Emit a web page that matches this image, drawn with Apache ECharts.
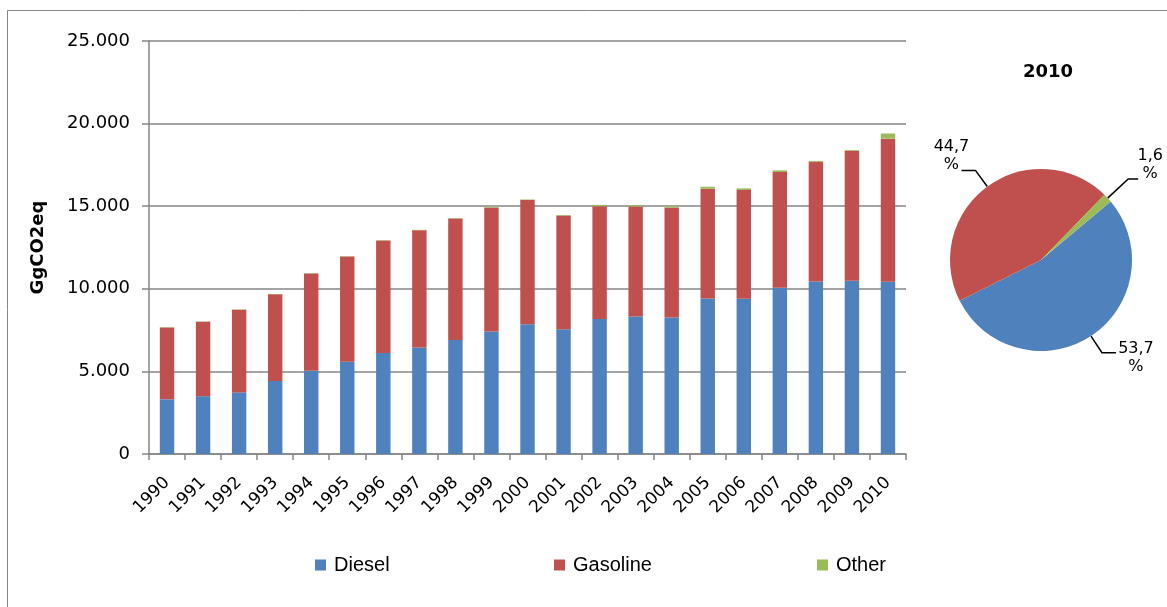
<!DOCTYPE html>
<html>
<head>
<meta charset="utf-8">
<title>GgCO2eq</title>
<script src="https://cdn.jsdelivr.net/npm/echarts@6/dist/echarts.min.js"></script>
<style>
  html, body { margin: 0; padding: 0; background: #fff; }
  #main { width: 1167px; height: 607px; }
</style>
</head>
<body>
<div id="main"></div>
<script>
// jaren
var years = ['1990', '1991', '1992', '1993', '1994', '1995', '1996', '1997', '1998', '1999',
  '2000', '2001', '2002', '2003', '2004', '2005', '2006', '2007', '2008', '2009', '2010']
// waarden per brandstof (GgCO2eq)
var diesel = [3310, 3500, 3730, 4420, 5040, 5580, 6120, 6450, 6900, 7410,
  7850, 7550, 8170, 8330, 8270, 9420, 9400, 10060, 10440, 10480, 10420]
var gasoline = [4340, 4510, 5000, 5250, 5880, 6370, 6810, 7100, 7350, 7510,
  7530, 6880, 6830, 6650, 6650, 6640, 6580, 7010, 7230, 7870, 8670]
var other = [20, 20, 20, 20, 20, 20, 20, 20, 20, 40,
  30, 30, 80, 70, 80, 120, 100, 100, 60, 40, 310]
var yTicks = [0, 5000, 10000, 15000, 20000, 25000]

var colors = ['#4F81BD', '#C0504D', '#9BBB59']
var last = years.length - 1

function fmt(v) {
  // 25000 -> 25.000
  return String(v).replace(/\B(?=(\d{3})+(?!\d))/g, '.')
}

var chart = echarts.init(document.getElementById('main'))

var legendBase = {
  itemWidth: 11,
  itemHeight: 11,
  icon: 'rect',
  top: 550,
  textStyle: {
    fontFamily: 'Liberation Sans, Arial',
    fontSize: 20,
    color: '#000',
    padding: [0, 0, 0, 3]
  }
}

var pctStyle = {
  align: 'center',
  fontFamily: 'DejaVu Sans',
  fontSize: 16,
  lineHeight: 18,
  color: '#000'
}

var option = {
  animation: false,
  color: colors,
  graphic: [
    {
      type: 'rect',
      shape: { x: 7.5, y: 10.5, width: 1300, height: 800 },
      style: { fill: 'none', stroke: '#878787', lineWidth: 1 },
      silent: true
    }
  ],
  title: {
    text: years[last],
    left: 1043,
    top: 58,
    textAlign: 'center',
    textStyle: {
      fontFamily: 'DejaVu Sans',
      fontWeight: 'bold',
      fontSize: 18,
      color: '#000'
    }
  },
  legend: [
    Object.assign({ data: ['Diesel'], left: 310 }, legendBase),
    Object.assign({ data: ['Gasoline'], left: 549 }, legendBase),
    Object.assign({ data: ['Other'], left: 812 }, legendBase)
  ],
  grid: {
    left: 149,
    right: 261,
    top: 41,
    bottom: 153
  },
  xAxis: {
    type: 'category',
    data: years,
    axisLine: { lineStyle: { color: '#868686', width: 1.5 } },
    axisTick: { show: true, length: 6, interval: 0, lineStyle: { color: '#868686', width: 1.5 } },
    axisLabel: {
      interval: 0,
      rotate: 45,
      margin: 26,
      fontFamily: 'DejaVu Sans',
      fontSize: 17,
      color: '#000'
    }
  },
  yAxis: {
    type: 'value',
    min: yTicks[0],
    max: yTicks[yTicks.length - 1],
    interval: yTicks[1] - yTicks[0],
    name: 'GgCO2eq',
    nameLocation: 'middle',
    nameGap: 102,
    nameRotate: 90,
    nameTextStyle: {
      fontFamily: 'DejaVu Sans',
      fontWeight: 'bold',
      fontSize: 18,
      color: '#000'
    },
    axisLine: { show: true, lineStyle: { color: '#868686', width: 1.5 } },
    axisTick: { show: true, length: 7, lineStyle: { color: '#868686', width: 1.5 } },
    splitLine: { lineStyle: { color: '#868686', width: 1.5 } },
    axisLabel: {
      margin: 19,
      formatter: fmt,
      fontFamily: 'DejaVu Sans',
      fontSize: 18,
      color: '#000'
    }
  },
  series: [
    {
      name: 'Diesel',
      type: 'bar',
      stack: 'total',
      barWidth: '40%',
      data: diesel
    },
    {
      name: 'Gasoline',
      type: 'bar',
      stack: 'total',
      data: gasoline
    },
    {
      name: 'Other',
      type: 'bar',
      stack: 'total',
      data: other
    },
    {
      name: '2010',
      type: 'pie',
      center: [1041, 260],
      radius: 91,
      startAngle: 40,
      clockwise: true,
      legendHoverLink: false,
      data: [
        {
          name: 'Diesel',
          value: diesel[last],
          label: { distanceToLabelLine: 1, padding: [10, 0, 0, 0] }
        },
        {
          name: 'Gasoline',
          value: gasoline[last],
          label: { distanceToLabelLine: -9, padding: [0, 0, 30, 0] }
        },
        {
          name: 'Other',
          value: other[last],
          label: { distanceToLabelLine: -2, padding: [0, 0, 28, 0] },
          labelLine: { length: 28, length2: 10 }
        }
      ],
      label: {
        position: 'outside',
        bleedMargin: 0,
        overflow: 'none',
        formatter: function (p) {
          var s = p.name === 'Other' ? 'n' : 'w'
          return '{' + s + '|' + p.percent.toFixed(1).replace('.', ',') + '}\n{' + s + '|%}'
        },
        rich: {
          w: Object.assign({ width: 38 }, pctStyle),
          n: Object.assign({ width: 28 }, pctStyle)
        }
      },
      labelLine: {
        length: 20,
        length2: 14,
        lineStyle: { color: '#000', width: 1.5 }
      }
    }
  ]
}

chart.setOption(option)
</script>
</body>
</html>
